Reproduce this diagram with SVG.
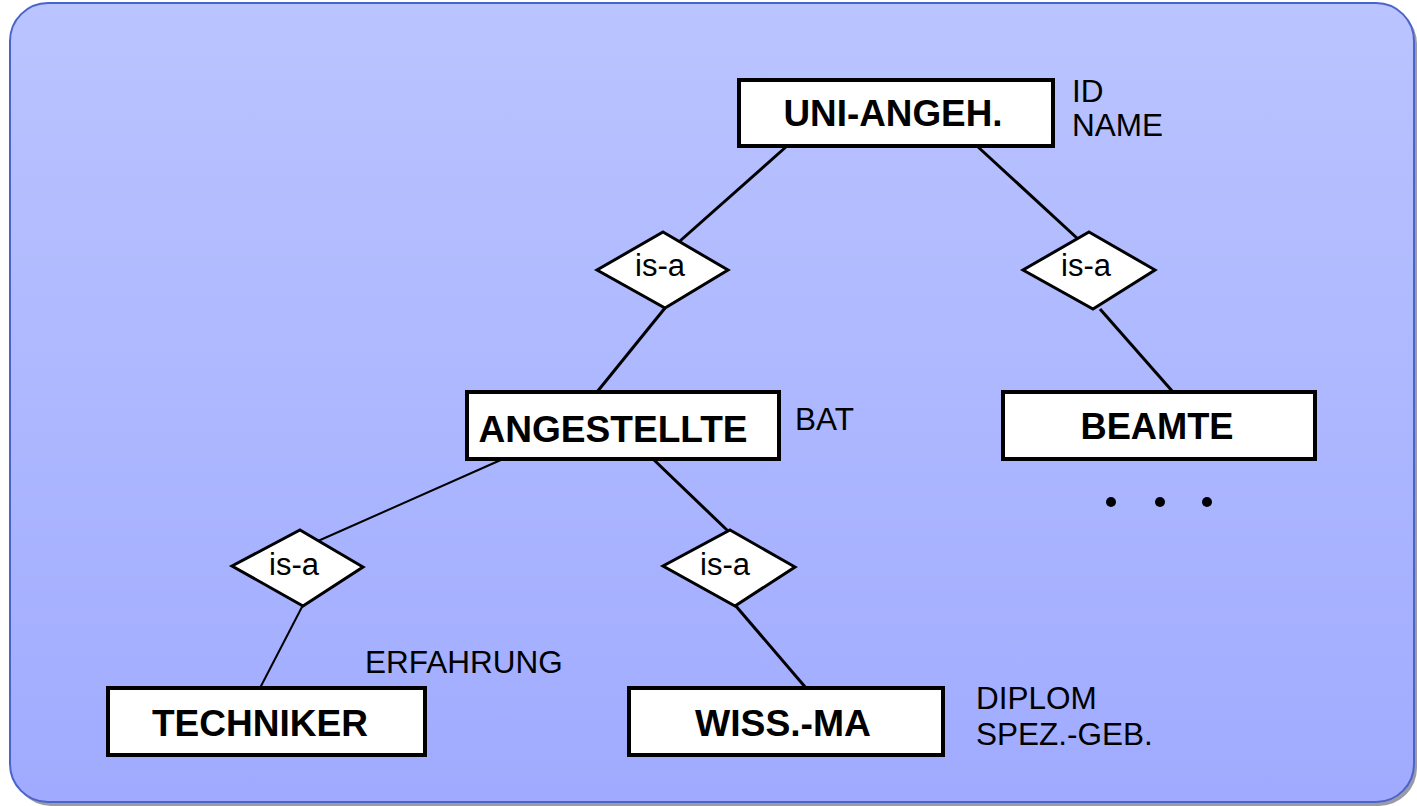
<svg xmlns="http://www.w3.org/2000/svg" width="1417" height="806" viewBox="0 0 1417 806">
<defs>
<linearGradient id="bg" x1="0" y1="0" x2="0" y2="1">
<stop offset="0" stop-color="#bac4ff"/>
<stop offset="1" stop-color="#a0abff"/>
</linearGradient>
<style>
.ent{fill:#ffffff;stroke:#000000;stroke-width:4}
.rel{fill:#ffffff;stroke:#000000;stroke-width:3}
.et{font-family:"Liberation Sans",Arial,sans-serif;font-weight:bold;font-size:37px;fill:#000000;text-anchor:middle}
.rt{font-family:"Liberation Sans",Arial,sans-serif;font-size:31px;fill:#000000;text-anchor:middle}
.at{font-family:"Liberation Sans",Arial,sans-serif;font-size:31.5px;fill:#000000}
.ln{stroke:#000000;stroke-width:3;fill:none}
.ln2{stroke:#000000;stroke-width:2;fill:none}
</style>
</defs>
<rect x="13" y="6" width="1404" height="800" rx="38" fill="#9a9aa8"/>
<rect x="10" y="3" width="1404" height="799" rx="38" fill="url(#bg)" stroke="#4a64cc" stroke-width="2"/>
<g id="connectors">
<line class="ln" x1="787" y1="146" x2="680" y2="241"/>
<line class="ln" x1="977" y1="146" x2="1078" y2="239"/>
<line class="ln" x1="665" y1="308" x2="597" y2="392"/>
<line class="ln" x1="1100" y1="309" x2="1173" y2="392"/>
<line class="ln2" x1="503" y1="459" x2="318" y2="541"/>
<line class="ln" x1="653" y1="459" x2="728" y2="531"/>
<line class="ln2" x1="303" y1="605" x2="260" y2="688"/>
<line class="ln" x1="735" y1="605" x2="806" y2="688"/>
</g>
<g id="uni-angeh">
<rect class="ent" x="739" y="80" width="314" height="66"/>
<text class="et" x="893" y="126" textLength="219" lengthAdjust="spacingAndGlyphs">UNI-ANGEH.</text>
</g>
<g id="uni-attr">
<text class="at" x="1072" y="102">ID</text>
<text class="at" x="1072" y="136">NAME</text>
</g>
<g id="isa1">
<polygon class="rel" points="663,232 728,270 665,308 597,270"/>
<text class="rt" x="660" y="276">is-a</text>
</g>
<g id="isa2">
<polygon class="rel" points="1089,232 1155,270 1093,309 1023,270"/>
<text class="rt" x="1086" y="276">is-a</text>
</g>
<g id="angestellte">
<rect class="ent" x="467" y="392" width="312" height="67"/>
<text class="et" x="613" y="442" textLength="269" lengthAdjust="spacingAndGlyphs">ANGESTELLTE</text>
</g>
<g id="angestellte-attr">
<text class="at" x="795" y="430">BAT</text>
</g>
<g id="beamte">
<rect class="ent" x="1003" y="392" width="312" height="67"/>
<text class="et" x="1157" y="439" textLength="153" lengthAdjust="spacingAndGlyphs">BEAMTE</text>
</g>
<g id="dots">
<circle cx="1111" cy="502" r="5" fill="#000"/>
<circle cx="1160" cy="502" r="5" fill="#000"/>
<circle cx="1207" cy="502" r="5" fill="#000"/>
</g>
<g id="isa3">
<polygon class="rel" points="300,530 363,567 303,606 232,566"/>
<text class="rt" x="294" y="575">is-a</text>
</g>
<g id="isa4">
<polygon class="rel" points="730,530 795,567 735,606 663,566"/>
<text class="rt" x="725" y="575">is-a</text>
</g>
<g id="techniker">
<rect class="ent" x="108" y="688" width="317" height="67"/>
<text class="et" x="260" y="736" textLength="216" lengthAdjust="spacingAndGlyphs">TECHNIKER</text>
</g>
<g id="techniker-attr">
<text class="at" x="365" y="673">ERFAHRUNG</text>
</g>
<g id="wiss-ma">
<rect class="ent" x="629" y="688" width="314" height="67"/>
<text class="et" x="783" y="736" textLength="176" lengthAdjust="spacingAndGlyphs">WISS.-MA</text>
</g>
<g id="wiss-attr">
<text class="at" x="976" y="709">DIPLOM</text>
<text class="at" x="976" y="745">SPEZ.-GEB.</text>
</g>
</svg>
